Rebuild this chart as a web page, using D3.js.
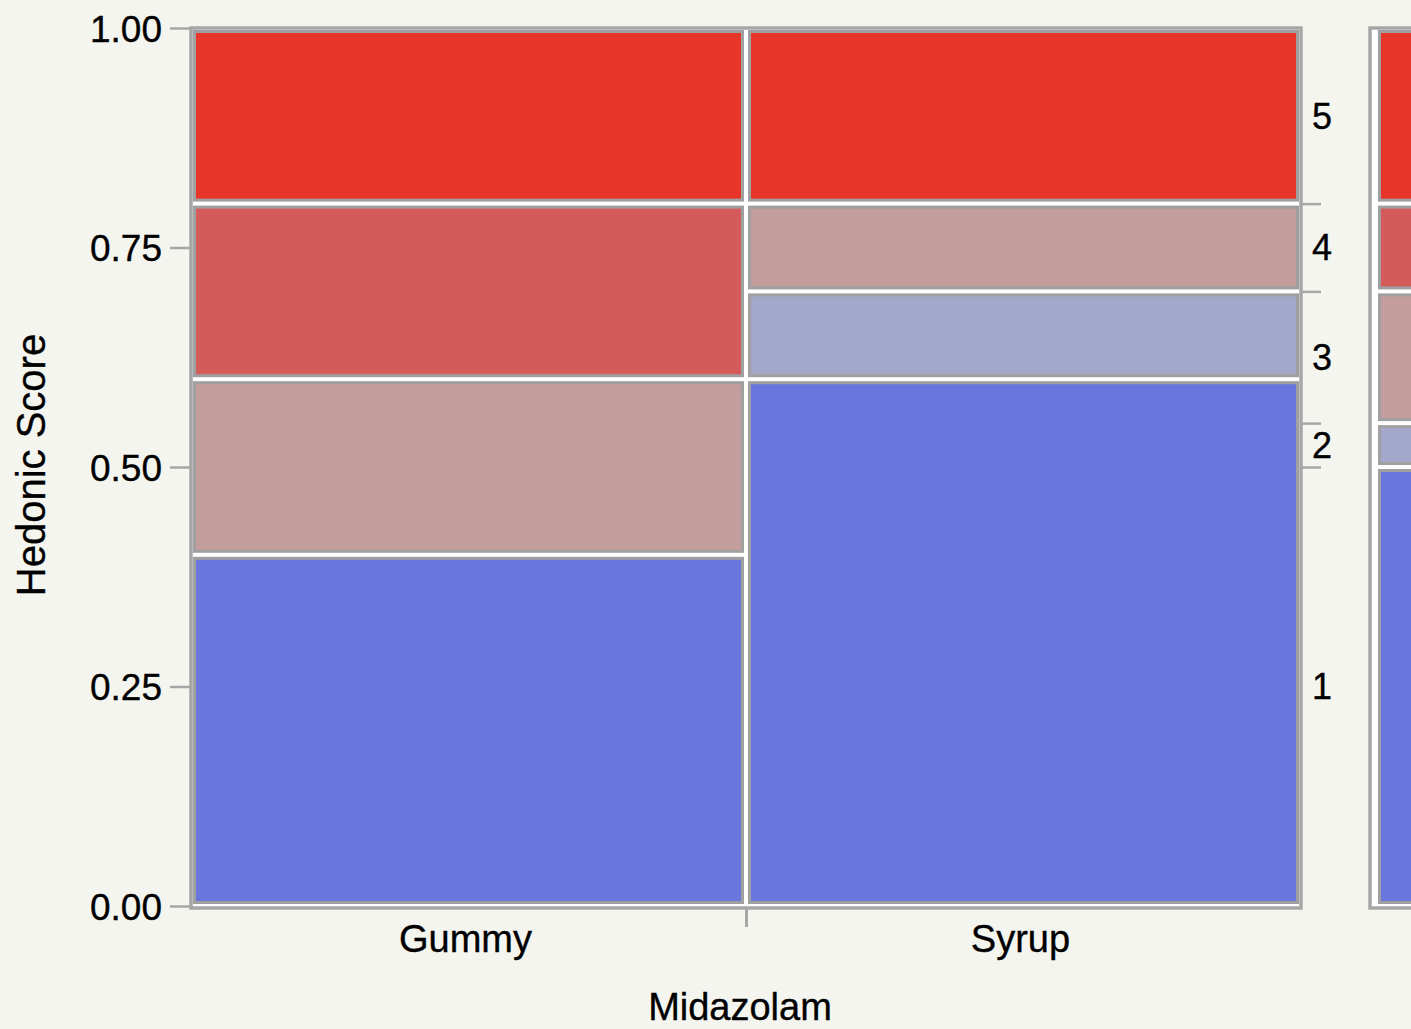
<!DOCTYPE html>
<html>
<head>
<meta charset="utf-8">
<script src="https://cdn.jsdelivr.net/npm/d3@7"></script>
<style>
  html, body { margin: 0; padding: 0; background: #f5f5f0; }
  svg { display: block; font-family: "Liberation Sans", Arial, Helvetica, sans-serif; }
  text { fill: #000; stroke: #000; stroke-width: 0.35px; }
</style>
</head>
<body>
<svg id="chart" width="1411" height="1029"></svg>
<script>
// ---- data ----
const categories = ["Gummy", "Syrup"];
const levels = ["1", "2", "3", "4", "5"];
const gummyCounts = [4, 0, 2, 2, 2];
const syrupCounts = [6, 1, 1, 0, 2];
const yTicks = [0, 0.25, 0.5, 0.75, 1.0];
const levelColors = ["#6876dd", "#a3a7c9", "#c49e9d", "#d35c5a", "#e8352a"];
const xTitle = "Midazolam";
const yTitle = "Hedonic Score";

const countsByCat = [gummyCounts, syrupCounts];

const svg = d3.select("#chart");
const gray = "#a6a6a6";
const fontFam = '"Liberation Sans", Arial, Helvetica, sans-serif';

const xs = d3.scaleLinear().domain([0, 1]).range([191, 1301]);
const ys = d3.scaleLinear().domain([0, 1]).range([906, 28]);
const color = d3.scaleOrdinal().domain(levels).range(levelColors);

// column widths proportional to totals
const totals = countsByCat.map(c => d3.sum(c));
const grand = d3.sum(totals);
let cx = 0;
const columns = categories.map((cat, i) => {
  const x0 = cx, x1 = cx + totals[i] / grand;
  cx = x1;
  let cy = 0;
  const cells = levels.map((lv, j) => {
    const y0 = cy, y1 = cy + countsByCat[i][j] / totals[i];
    cy = y1;
    return { cat, lv, x0, x1, y0, y1, n: countsByCat[i][j] };
  }).filter(d => d.n > 0);
  return { cat, x0, x1, cells };
});

// frame
svg.append("rect")
  .attr("x", 191).attr("y", 28)
  .attr("width", 1110).attr("height", 880)
  .attr("fill", "#ffffff").attr("stroke", gray).attr("stroke-width", 3.5);

const inset = 2, sw = 3;
function cellRect(sel, xPix0, xPix1, d) {
  const left = xPix0 + inset, right = xPix1 - inset;
  const top = ys(d.y1) + inset, bottom = ys(d.y0) - inset;
  sel.append("rect")
    .attr("x", left + sw / 2).attr("y", top + sw / 2)
    .attr("width", Math.max(0, right - left - sw))
    .attr("height", Math.max(0, bottom - top - sw))
    .attr("fill", color(d.lv))
    .attr("stroke", "#a0a0a0").attr("stroke-width", sw);
}

const gCells = svg.append("g");
columns.forEach(col => {
  col.cells.forEach(d => cellRect(gCells, xs(d.x0), xs(d.x1), d));
});

// left axis
const yAxis = d3.axisLeft(ys).tickValues(yTicks).tickFormat(d3.format(".2f"))
  .tickSizeInner(21).tickSizeOuter(0).tickPadding(8);
const gy = svg.append("g").attr("transform", "translate(191,0)").call(yAxis);
gy.select(".domain").remove();
gy.selectAll(".tick line").attr("stroke", gray).attr("stroke-width", 2.5);
gy.selectAll(".tick text").style("font-size", "37px")
  .style("font-family", fontFam).attr("dy", "0.36em");

// bottom axis: divider tick between columns
const dividers = columns.slice(0, -1).map(c => c.x1);
const xAxis = d3.axisBottom(xs).tickValues(dividers).tickFormat("")
  .tickSizeInner(19).tickSizeOuter(0);
const gx = svg.append("g").attr("transform", "translate(0,908)").call(xAxis);
gx.select(".domain").remove();
gx.selectAll(".tick line").attr("stroke", gray).attr("stroke-width", 3);

// category labels
svg.append("g").selectAll("text").data(columns).join("text")
  .attr("x", d => xs((d.x0 + d.x1) / 2) - 3)
  .attr("y", 952)
  .attr("text-anchor", "middle")
  .style("font-size", "38px")
  .text(d => d.cat);

// axis titles
svg.append("text").attr("x", 740).attr("y", 1020).attr("text-anchor", "middle")
  .style("font-size", "38px").text(xTitle);
svg.append("text").attr("transform", "translate(45,465) rotate(-90)")
  .attr("text-anchor", "middle").style("font-size", "40px").text(yTitle);

// marginal distribution
const levelTotals = levels.map((lv, j) => d3.sum(countsByCat, c => c[j]));
let my = 0;
const margin = levels.map((lv, j) => {
  const y0 = my, y1 = my + levelTotals[j] / grand;
  my = y1;
  return { lv, y0, y1, n: levelTotals[j] };
});

// right axis ticks and labels
const bounds = margin.slice(0, -1).map(d => d.y1);
const rAxis = d3.axisRight(ys).tickValues(bounds).tickFormat("")
  .tickSizeInner(20).tickSizeOuter(0);
const gr = svg.append("g").attr("transform", "translate(1301,0)").call(rAxis);
gr.select(".domain").remove();
gr.selectAll(".tick line").attr("stroke", gray).attr("stroke-width", 2.5);
svg.append("g").selectAll("text").data(margin.filter(d => d.n > 0)).join("text")
  .attr("x", 1312)
  .attr("y", d => ys((d.y0 + d.y1) / 2))
  .attr("dy", "0.36em")
  .style("font-size", "36px")
  .text(d => d.lv);

// marginal bar
svg.append("rect")
  .attr("x", 1370).attr("y", 28)
  .attr("width", 120).attr("height", 880)
  .attr("fill", "#ffffff").attr("stroke", gray).attr("stroke-width", 3.5);
const gM = svg.append("g");
margin.filter(d => d.n > 0).forEach(d => cellRect(gM, 1376, 1440, d));
</script>
</body>
</html>
